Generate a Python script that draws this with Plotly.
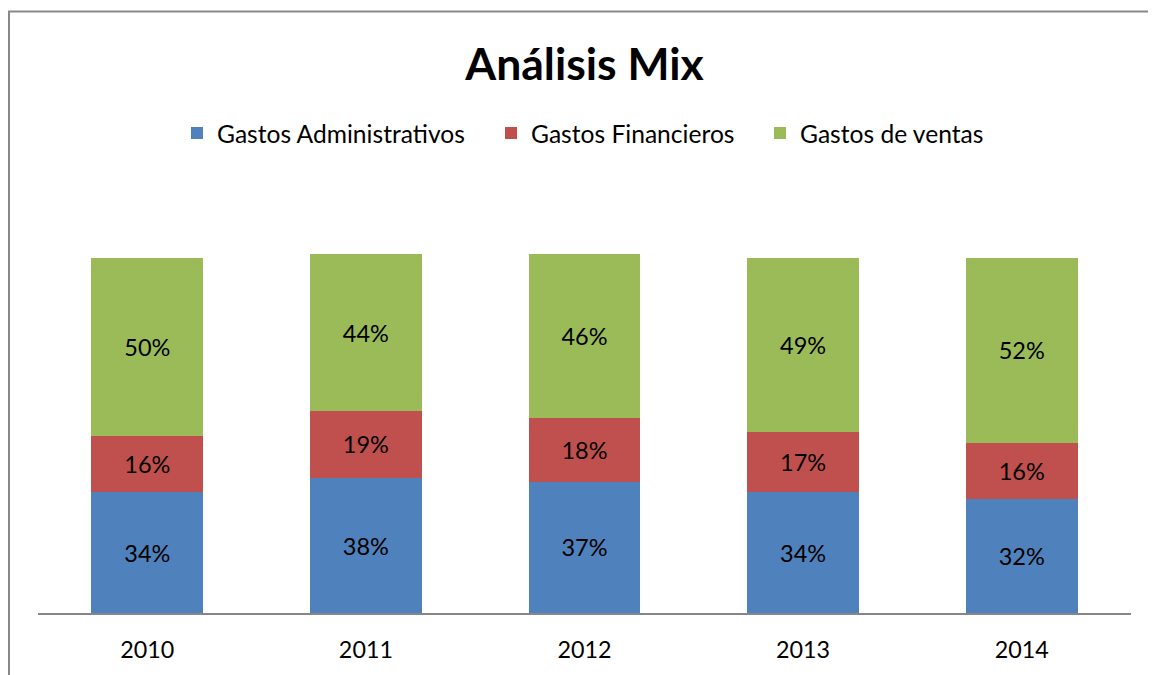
import plotly.graph_objects as go

years = ["2010", "2011", "2012", "2013", "2014"]
admin = [0.34, 0.38, 0.37, 0.34, 0.32]
financ = [0.16, 0.19, 0.18, 0.17, 0.16]
ventas = [0.50, 0.44, 0.46, 0.49, 0.52]

series = [
    ("Gastos Administrativos", admin, "#4F81BD", "legend"),
    ("Gastos Financieros", financ, "#C0504D", "legend2"),
    ("Gastos de ventas", ventas, "#9BBB59", "legend3"),
]

FONT = "Lato"
W, H = 1148, 667  # page body adds an 8px margin

fig = go.Figure()
for name, vals, color, leg in series:
    fig.add_trace(go.Bar(
        x=years, y=vals, name=name, legend=leg,
        marker=dict(color=color, line=dict(width=0)),
        texttemplate="%{y:.0%}", textposition="inside",
        insidetextanchor="middle", constraintext="none",
        textfont=dict(family=FONT, size=23.5, color="black"),
        hoverinfo="skip",
    ))

legend_text_x = [209, 523, 792]
leg_common = dict(orientation="h", xanchor="left", yanchor="middle",
                  xref="container", yref="container",
                  y=1 - 125 / H, font=dict(size=24.6, family=FONT, color="black"),
                  bgcolor="rgba(0,0,0,0)", borderwidth=0)

fig.update_layout(
    barmode="stack", bargap=0.488,
    width=W, height=H,
    margin=dict(l=30, r=25, t=179, b=60),
    paper_bgcolor="white", plot_bgcolor="white",
    font=dict(family=FONT, color="black"),
    title=dict(text="<b>Análisis Mix</b>", x=576.5 / W, xanchor="center",
               y=1 - 56 / H, yanchor="middle", font=dict(size=44.5, family=FONT, color="black")),
    legend=dict(x=(legend_text_x[0] - 40) / W, **leg_common),
    legend2=dict(x=(legend_text_x[1] - 40) / W, **leg_common),
    legend3=dict(x=(legend_text_x[2] - 40) / W, **leg_common),
    showlegend=True,
)
fig.update_xaxes(showline=True, linecolor="#868686", linewidth=1.5, ticks="",
                 ticklabelstandoff=15,
                 tickfont=dict(size=23.3, family=FONT), showgrid=False)
fig.update_yaxes(range=[0, 1.2], visible=False, showgrid=False)

fig.add_shape(type="rect", xref="paper", yref="paper",
              x0=(1 - 30) / 1093, x1=(1170 - 30) / 1093,
              y0=(607 - 690) / 428.4, y1=(607 - 2) / 428.4,
              line=dict(color="#898989", width=2), fillcolor="rgba(0,0,0,0)", layer="below")

fig.write_html("out.html")
